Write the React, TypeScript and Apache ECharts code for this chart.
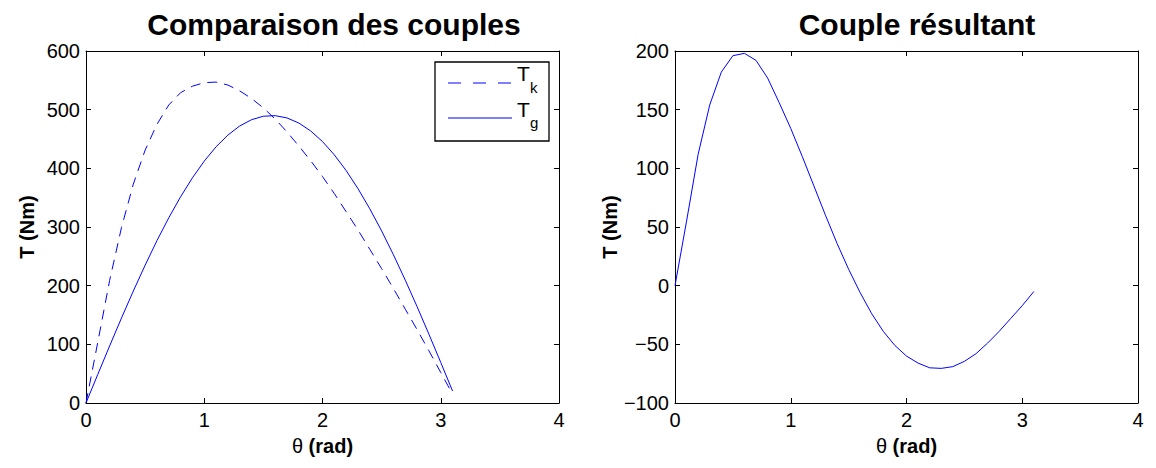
import React, { useEffect, useRef } from "react";
import * as echarts from "echarts";

const theta = [0, 0.1, 0.2, 0.3, 0.4, 0.5, 0.6, 0.7, 0.8, 0.9, 1.0, 1.1, 1.2, 1.3, 1.4, 1.5, 1.6, 1.7, 1.8, 1.9, 2.0, 2.1, 2.2, 2.3, 2.4, 2.5, 2.6, 2.7, 2.8, 2.9, 3.0, 3.1];

const Tk = [0, 104, 209, 299, 373, 431, 475, 508, 529, 540, 546, 547, 542, 532, 519, 503, 484, 462, 438, 413, 386, 357, 326, 295, 262, 229, 195, 160, 125, 89, 52, 15];

const Tg = [0, 48.9, 97.3, 144.8, 190.8, 234.9, 276.7, 315.7, 351.5, 383.8, 412.3, 436.7, 456.7, 472.2, 482.9, 488.8, 489.8, 485.9, 477.2, 463.7, 445.6, 423.0, 396.2, 365.4, 331.0, 293.3, 252.6, 209.4, 164.2, 117.2, 69.1, 20.4];

const Tres = [0, 55, 112, 154, 182, 196, 198, 192, 177, 156, 134, 110, 85, 60, 36, 14, -6, -24, -39, -51, -60, -66, -70, -70.5, -69, -64.5, -58, -49, -39, -28, -17, -5];

const titleLeft = "Comparaison des couples";
const titleRight = "Couple résultant";
const xName = "{t|θ} (rad)";
const yName = "T (Nm)";

const FONT = "'Liberation Sans', Arial, Helvetica, sans-serif";
const BLUE = "#0000ff";

function pairs(xs: number[], ys: number[]) {
  return xs.map((x, i) => [x, ys[i]]);
}

const fmt = (v: number) => String(v).replace("-", "\u2212");

function xAx(grid: number, bottom: boolean) {
  return {
    type: "value",
    gridIndex: grid,
    position: bottom ? "bottom" : "top",
    min: 0,
    max: 4,
    interval: 1,
    name: bottom ? xName : "",
    nameLocation: "middle",
    nameGap: 33,
    nameTextStyle: {
      fontFamily: FONT,
      fontSize: 20,
      fontWeight: "bold",
      color: "#000",
      rich: { t: { fontFamily: FONT, fontSize: 20, fontWeight: "normal", color: "#000" } },
    },
    axisLine: { show: true, onZero: false, lineStyle: { color: "#000", width: 1 } },
    axisTick: { show: true, inside: true, length: 5, lineStyle: { color: "#000" } },
    axisLabel: {
      show: bottom,
      fontFamily: FONT,
      fontSize: 20,
      color: "#000",
      margin: 7,
      formatter: fmt,
    },
    splitLine: { show: false },
  };
}

function yAx(grid: number, left: boolean, min: number, max: number, interval: number, gap: number) {
  return {
    type: "value",
    gridIndex: grid,
    position: left ? "left" : "right",
    min,
    max,
    interval,
    name: left ? yName : "",
    nameLocation: "middle",
    nameGap: gap,
    nameTextStyle: { fontFamily: FONT, fontSize: 20, fontWeight: "bold", color: "#000" },
    axisLine: { show: true, onZero: false, lineStyle: { color: "#000", width: 1 } },
    axisTick: { show: true, inside: true, length: 5, lineStyle: { color: "#000" } },
    axisLabel: {
      show: left,
      fontFamily: FONT,
      fontSize: 20,
      color: "#000",
      margin: 6,
      formatter: fmt,
    },
    splitLine: { show: false },
  };
}

export default function App() {
  const ref = useRef<HTMLDivElement>(null);
  useEffect(() => {
    if (!ref.current) return;
    const chart = echarts.init(ref.current, undefined, { renderer: "svg" });
    chart.setOption({
      animation: false,
      backgroundColor: "#ffffff",
      title: [
        {
          text: titleLeft,
          left: 329,
          top: 4,
          textAlign: "center",
          textStyle: { fontFamily: FONT, fontSize: 30, fontWeight: "bold", color: "#000" },
        },
        {
          text: titleRight,
          left: 912,
          top: 4,
          textAlign: "center",
          textStyle: { fontFamily: FONT, fontSize: 30, fontWeight: "bold", color: "#000" },
        },
      ],
      grid: [
        { left: 86, top: 51, width: 473, height: 352, containLabel: false },
        { left: 675, top: 51, width: 463, height: 352, containLabel: false },
      ],
      xAxis: [xAx(0, true), xAx(0, false), xAx(1, true), xAx(1, false)],
      yAxis: [
        yAx(0, true, 0, 600, 100, 49),
        yAx(0, false, 0, 600, 100, 49),
        yAx(1, true, -100, 200, 50, 49),
        yAx(1, false, -100, 200, 50, 49),
      ],
      series: [
        {
          name: "Tk",
          type: "line",
          xAxisIndex: 0,
          yAxisIndex: 0,
          data: pairs(theta, Tk),
          symbol: "none",
          smooth: false,
          lineStyle: { color: BLUE, width: 1, type: [10, 7] },
        },
        {
          name: "Tg",
          type: "line",
          xAxisIndex: 0,
          yAxisIndex: 0,
          data: pairs(theta, Tg),
          symbol: "none",
          lineStyle: { color: BLUE, width: 1 },
        },
        {
          name: "Tres",
          type: "line",
          xAxisIndex: 2,
          yAxisIndex: 2,
          data: pairs(theta, Tres),
          symbol: "none",
          lineStyle: { color: BLUE, width: 1 },
        },
      ],
      graphic: [
        {
          type: "rect",
          shape: { x: 435, y: 62, width: 114, height: 79 },
          style: { fill: "#fff", stroke: "#000", lineWidth: 1.3 },
          z: 100,
        },
        {
          type: "line",
          shape: { x1: 448, y1: 83, x2: 512, y2: 83 },
          style: { stroke: BLUE, lineWidth: 1, lineDash: [13, 12] },
          z: 101,
        },
        {
          type: "line",
          shape: { x1: 448, y1: 118, x2: 512, y2: 118 },
          style: { stroke: BLUE, lineWidth: 1 },
          z: 101,
        },
        {
          type: "text",
          x: 517,
          y: 63,
          style: { text: "T", font: `21px ${FONT}`, fill: "#000", textVerticalAlign: "top" },
          z: 101,
        },
        {
          type: "text",
          x: 530,
          y: 80,
          style: { text: "k", font: `15px ${FONT}`, fill: "#000", textVerticalAlign: "top" },
          z: 101,
        },
        {
          type: "text",
          x: 517,
          y: 99,
          style: { text: "T", font: `21px ${FONT}`, fill: "#000", textVerticalAlign: "top" },
          z: 101,
        },
        {
          type: "text",
          x: 530,
          y: 115,
          style: { text: "g", font: `15px ${FONT}`, fill: "#000", textVerticalAlign: "top" },
          z: 101,
        },
      ],
    });
    return () => chart.dispose();
  }, []);
  return (
    <div
      ref={ref}
      style={{ position: "fixed", left: 0, top: 0, width: 1156, height: 468, background: "#fff" }}
    />
  );
}
